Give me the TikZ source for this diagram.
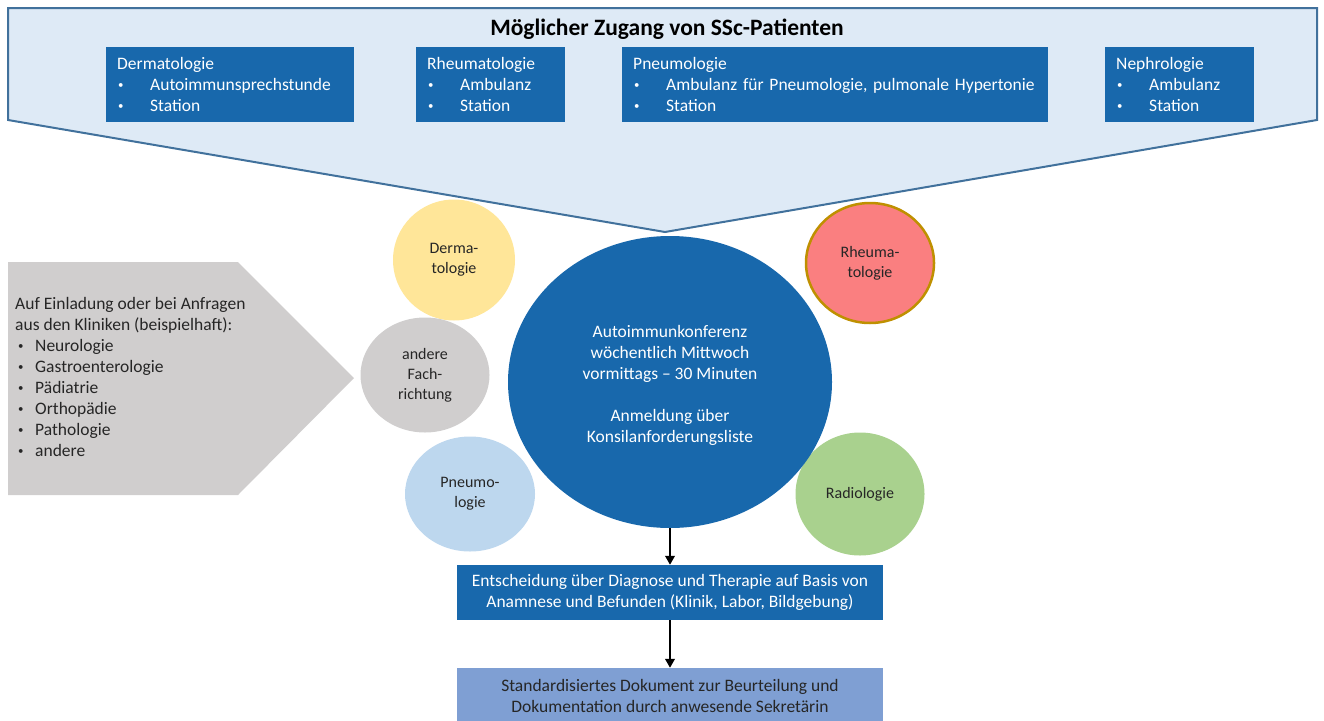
\documentclass[tikz,border=0pt]{standalone}
\usepackage{fontspec}
\usepackage{graphicx}
\setmainfont{Carlito}
\usetikzlibrary{arrows.meta,shapes.geometric}
\definecolor{dblue}{HTML}{1868AC}
\definecolor{bannerfill}{HTML}{DEEAF6}
\definecolor{bannerline}{HTML}{41719C}
\definecolor{cgrey}{HTML}{D0CECE}
\definecolor{cyellow}{HTML}{FFE699}
\definecolor{csalmon}{HTML}{FA7F80}
\definecolor{cgold}{HTML}{BF9000}
\definecolor{clblue}{HTML}{BDD7EE}
\definecolor{cgreen}{HTML}{A9D18E}
\definecolor{docblue}{HTML}{7F9FD3}
\definecolor{ink}{HTML}{262626}
\newcommand\mysz{\fontsize{17.5}{21}\selectfont}
\newcommand\csz{\fontsize{16}{20}\selectfont}
\newcommand\smbul{\raisebox{0.12em}{\scalebox{0.62}{\textbullet}}}
\newcommand\myitem[1]{\makebox[33pt][l]{\hspace*{1pt}\smbul}#1}
\newcommand\lbul[1]{\hspace*{3pt}\makebox[17pt][l]{\smbul}#1}
\begin{document}
\begin{tikzpicture}[x=1pt,y=-1pt,
  dbox/.style={fill=dblue, text=white, inner xsep=11pt, inner ysep=0pt, align=left,
    font=\mysz, anchor=north west, minimum height=75pt},
  circ/.style={ellipse, inner sep=0pt, align=center, font=\csz, text=ink},
  arr/.style={line width=2.2pt, black, -{Triangle[length=9pt,width=9.5pt]}}]
\useasboundingbox (0,0) rectangle (1324,720);
% banner
\draw[fill=bannerfill, draw=bannerline, line width=2pt, line join=miter]
  (8,8) -- (1317,8) -- (1317,120) -- (665,232) -- (8,120) -- cycle;
\node[font=\bfseries\fontsize{23.5}{28}\selectfont, anchor=base, text=black, inner sep=0pt]
  (title) at (667,35) {Möglicher Zugang von SSc-Patienten};
\node[dbox, text width=226pt] (bderm) at (106,47)
  {Dermatologie\\\myitem{Autoimmunsprechstunde}\\\myitem{Station}};
\node[dbox, text width=127pt] (brheu) at (416,47)
  {Rheumatologie\\\myitem{Ambulanz}\\\myitem{Station}};
\node[dbox, text width=404pt] (bpneu) at (622,47)
  {Pneumologie\\\myitem{Ambulanz für Pneumologie, pulmonale Hypertonie}\\\myitem{Station}};
\node[dbox, text width=127pt] (bneph) at (1105,47)
  {Nephrologie\\\myitem{Ambulanz}\\\myitem{Station}};
% left arrow
\fill[cgrey] (8,262) -- (238,262) -- (354,378) -- (238,495) -- (8,495) -- cycle;
\node[anchor=north west, align=left, font=\mysz, inner sep=0pt, text=ink] (einl) at (15,297)
  {Auf Einladung oder bei Anfragen\\aus den Kliniken (beispielhaft):\\
   \lbul{Neurologie}\\\lbul{Gastroenterologie}\\\lbul{Pädiatrie}\\
   \lbul{Orthopädie}\\\lbul{Pathologie}\\\lbul{andere}};
% circles
\node[circ, fill=cyellow, minimum width=122pt, minimum height=121pt] (derma) at (454,260) {Derma-\\tologie};
\node[circ, fill=csalmon, draw=cgold, line width=2.5pt, minimum width=128pt, minimum height=120pt] (rheuma) at (870,263) {Rheuma-\\tologie};
\node[circ, fill=cgrey, minimum width=129pt, minimum height=115pt] (andere) at (425,375) {andere\\Fach-\\richtung};
\node[circ, fill=clblue, minimum width=130pt, minimum height=115pt] (pneumo) at (470,494) {Pneumo-\\logie};
\node[circ, fill=cgreen, minimum width=129pt, minimum height=123pt] (radio) at (860,494) {Radiologie};
% main ellipse
\node[ellipse, fill=dblue, minimum width=324pt, minimum height=292pt, inner sep=0pt] (konf) at (670,382) {};
\node[text=white, align=center, font=\mysz, inner sep=0pt] (konftxt) at (670,385)
  {Autoimmunkonferenz\\wöchentlich Mittwoch\\vormittags – 30 Minuten\\[21pt]Anmeldung über\\Konsilanforderungsliste};
% bottom boxes
\node[fill=dblue, text=white, minimum width=426pt, minimum height=55pt, inner sep=0pt,
  align=center, font=\mysz] (ent) at (670,592.5)
  {Entscheidung über Diagnose und Therapie auf Basis von\\Anamnese und Befunden (Klinik, Labor, Bildgebung)};
\node[fill=docblue, text=ink, minimum width=426pt, minimum height=56pt, inner sep=0pt,
  align=center, font=\mysz] (doc) at (670,696)
  {Standardisiertes Dokument zur Beurteilung und\\Dokumentation durch anwesende Sekretärin};
\draw[arr] (konf.south) -- (ent.north);
\draw[arr] (ent.south) -- (doc.north);
\end{tikzpicture}
\end{document}
